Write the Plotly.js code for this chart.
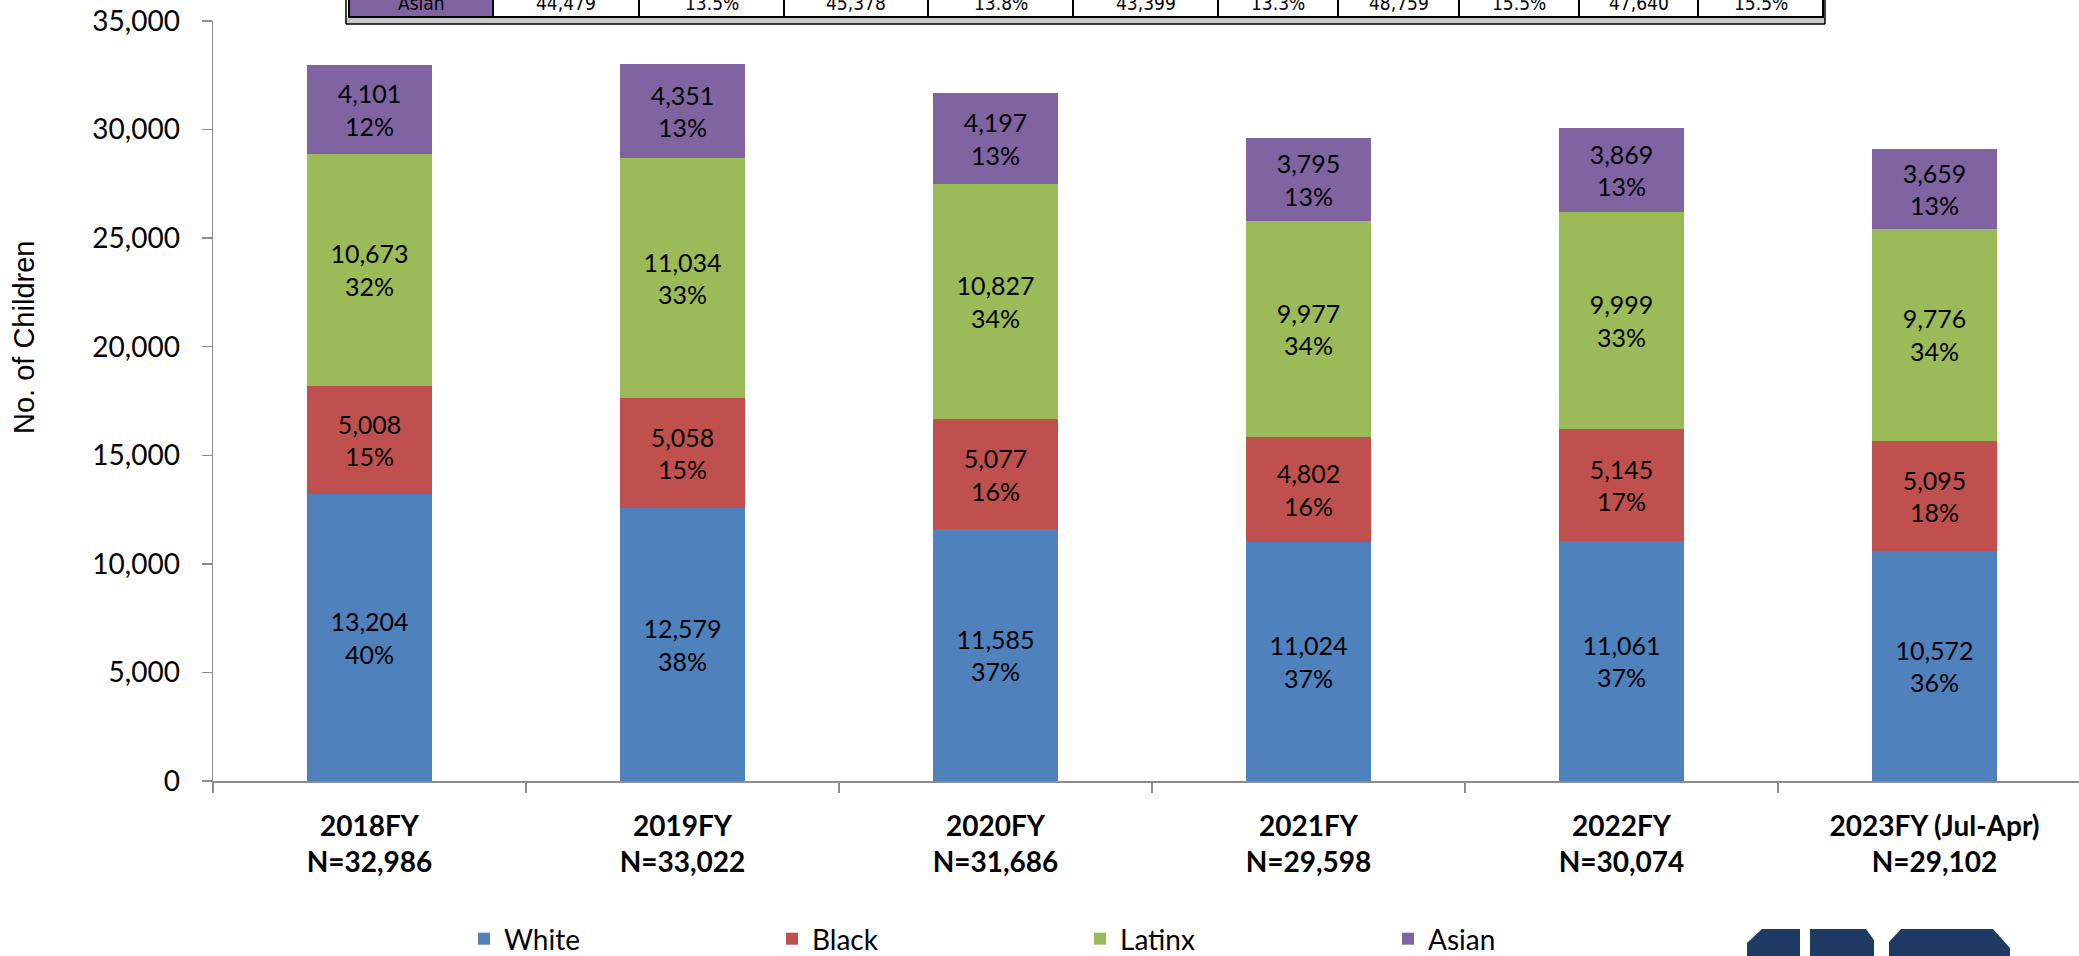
<!DOCTYPE html>
<html>
<head>
<meta charset="utf-8">
<script src="https://cdn.plot.ly/plotly-3.0.1.min.js"></script>
<style>html,body{margin:0;padding:0;background:#fff;}#chart{width:2079px;height:956px;}</style>
</head>
<body>
<div id="chart"></div>
<script>
// ---- data ----
const categories = ['2018FY', '2019FY', '2020FY', '2021FY', '2022FY', '2023FY (Jul-Apr)'];
const totals = [32986, 33022, 31686, 29598, 30074, 29102];
const white = [13204, 12579, 11585, 11024, 11061, 10572];
const black = [5008, 5058, 5077, 4802, 5145, 5095];
const latinx = [10673, 11034, 10827, 9977, 9999, 9776];
const asian = [4101, 4351, 4197, 3795, 3869, 3659];
const whitePct = [40, 38, 37, 37, 37, 36];
const blackPct = [15, 15, 16, 16, 17, 18];
const latinxPct = [32, 33, 34, 34, 33, 34];
const asianPct = [12, 13, 13, 13, 13, 13];
const seriesNames = ['White', 'Black', 'Latinx', 'Asian'];
const yTickVals = [0, 5000, 10000, 15000, 20000, 25000, 30000, 35000];
// partially visible table row at the top of the picture
const tableRow = ['Asian', '44,479', '13.5%', '45,378', '13.8%', '43,399', '13.3%', '48,759', '15.5%', '47,640', '15.5%'];

// ---- layout geometry (pixels) ----
const W = 2079, H = 956;
const L = 213, T = 21, B = 175;
const plotW = W - L, plotH = H - T - B;
const px = x => (x - L) / plotW;
const py = y => (H - B - y) / plotH;
const colors = ['#4F81BD', '#C0504D', '#9BBB59', '#8064A2'];

const xLabels = categories.map((c, i) => c + '<br>N=' + totals[i].toLocaleString('en-US'));
const vals = [white, black, latinx, asian];
const pcts = [whitePct, blackPct, latinxPct, asianPct];

const traces = vals.map((v, k) => ({
  type: 'bar',
  name: seriesNames[k],
  x: xLabels,
  y: v,
  customdata: pcts[k],
  marker: {color: colors[k], line: {width: 0}},
  texttemplate: '%{y:,}<br>%{customdata}%',
  textposition: 'inside',
  insidetextanchor: 'middle',
  textangle: 0,
  textfont: {family: 'Lato', size: 25, color: '#000'},
  constraintext: 'none',
  hoverinfo: 'skip'
}));

// table decoration
const cellEdges = [349, 493, 639, 784, 928, 1073, 1218, 1338, 1459, 1579, 1698, 1823];
const shapes = [];
const annotations = [];
for (let i = 0; i < tableRow.length; i++) {
  shapes.push({type: 'rect', xref: 'paper', yref: 'paper',
    x0: px(cellEdges[i]), x1: px(cellEdges[i + 1]), y0: py(17), y1: py(-40),
    fillcolor: i === 0 ? colors[3] : '#ffffff', line: {color: '#000', width: 2}, layer: 'above'});
  annotations.push({xref: 'paper', yref: 'paper', x: px((cellEdges[i] + cellEdges[i + 1]) / 2), y: py(3),
    xanchor: 'center', yanchor: 'middle', showarrow: false, text: tableRow[i],
    font: {family: 'DejaVu Sans Condensed, DejaVu Sans', size: 19, color: '#000'}});
}
shapes.push({type: 'rect', xref: 'paper', yref: 'paper', x0: px(346), x1: px(1825), y0: py(24), y1: py(18),
  fillcolor: '#c8c8c8', line: {width: 0}, layer: 'above'});
shapes.push({type: 'line', xref: 'paper', yref: 'paper', x0: px(346), x1: px(1825), y0: py(24), y1: py(24),
  line: {color: '#000', width: 1.5}, layer: 'above'});
shapes.push({type: 'line', xref: 'paper', yref: 'paper', x0: px(346), x1: px(346), y0: py(24), y1: py(-5),
  line: {color: '#000', width: 1.5}, layer: 'above'});
shapes.push({type: 'line', xref: 'paper', yref: 'paper', x0: px(1825), x1: px(1825), y0: py(24), y1: py(-5),
  line: {color: '#000', width: 1.5}, layer: 'above'});

// logo fragment bottom right
const poly = pts => 'M' + pts.map(p => px(p[0]).toFixed(5) + ',' + py(p[1]).toFixed(5)).join('L') + 'Z';
const logoColor = '#203A66';
[
  [[1747, 960], [1747, 943], [1762, 929], [1800, 929], [1800, 960]],
  [[1810, 960], [1810, 929], [1866, 929], [1874, 940], [1874, 960]],
  [[1889, 960], [1889, 942], [1901, 929], [1993, 929], [2010, 948], [2010, 960]]
].forEach(p => shapes.push({type: 'path', xref: 'paper', yref: 'paper', path: poly(p),
  fillcolor: logoColor, line: {width: 0}, layer: 'above'}));

// y-axis title
annotations.push({xref: 'paper', yref: 'paper', x: px(24), y: py(338), xanchor: 'center', yanchor: 'middle',
  showarrow: false, textangle: -90, text: 'No. of Children',
  font: {family: 'Liberation Sans', size: 29, color: '#000'}});

const layout = {
  width: W, height: H,
  margin: {l: L, r: 0, t: T, b: B, pad: 0, autoexpand: false},
  paper_bgcolor: '#fff', plot_bgcolor: '#fff',
  font: {family: 'Lato', color: '#000'},
  barmode: 'stack',
  bargap: 0.6,
  showlegend: true,
  legend: {orientation: 'h', x: px(464), xanchor: 'left', y: py(939), yanchor: 'middle',
    font: {family: 'Lato', size: 28, color: '#000'}, traceorder: 'normal',
    entrywidth: 263, entrywidthmode: 'pixels', bgcolor: 'rgba(0,0,0,0)', borderwidth: 0},
  xaxis: {type: 'category', range: [-0.5, -0.5 + plotW / 313], automargin: false,
    showline: true, linecolor: '#8c8c8c', linewidth: 2,
    ticks: 'outside', tickson: 'boundaries', ticklen: 10, tickcolor: '#8c8c8c', tickwidth: 2,
    showgrid: false, zeroline: false, ticklabelstandoff: 19,
    tickfont: {family: 'Lato', size: 28, color: '#000', weight: 'bold'}},
  yaxis: {range: [0, 35000], tickvals: yTickVals, tickformat: ',', automargin: false,
    showline: true, linecolor: '#8c8c8c', linewidth: 1.5,
    ticks: 'outside', ticklen: 10, tickcolor: '#8c8c8c', tickwidth: 1.5,
    showgrid: false, zeroline: false, ticklabelstandoff: 16,
    tickfont: {family: 'Lato', size: 28, color: '#000'}},
  shapes: shapes,
  annotations: annotations
};

Plotly.newPlot('chart', traces, layout, {displayModeBar: false, staticPlot: true});
</script>
</body>
</html>
